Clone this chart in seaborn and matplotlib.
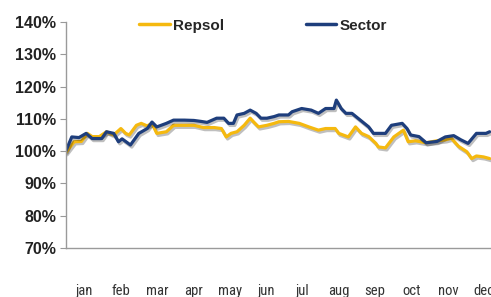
import matplotlib
matplotlib.use("Agg")
import pandas as pd
import matplotlib.pyplot as plt
import matplotlib.patheffects as pe
from matplotlib import font_manager
from matplotlib.lines import Line2D
import seaborn as sns

# Data (day of year, index level in %)
sector_days = [0, 5, 11, 17, 22, 30, 34, 40, 44, 47, 54, 61, 68, 72, 76, 84, 90, 99, 107, 113,
               118, 126, 132, 136, 140, 143, 149, 154, 159, 163, 168, 174, 178, 186, 189, 197,
               205, 211, 217, 224, 226, 230, 234, 239, 246, 253, 257, 261, 267, 272, 281, 285,
               288, 295, 301, 310, 317, 324, 330, 336, 343, 351, 354]
sector_vals = [100, 104.4, 104.2, 105.5, 103.9, 103.9, 106, 105.5, 102.9, 103.8, 101.9, 105.5,
               107, 109, 107.5, 108.6, 109.6, 109.6, 109.5, 109.2, 108.9, 110.2, 110.2, 108.6,
               108.6, 111.2, 111.7, 112.7, 111.7, 110.2, 110.2, 110.7, 111.2, 111.2, 112.2,
               113.2, 112.7, 111.7, 113.2, 113.2, 115.8, 113.2, 111.7, 111.7, 109.6, 107.5,
               105.5, 105.5, 105.5, 108, 108.6, 107, 105, 104.5, 102.6, 103, 104.4, 104.8,
               103.5, 102.4, 105.5, 105.5, 106]

repsol_days = [0, 7, 13, 18, 22, 28, 34, 40, 46, 50, 53, 59, 63, 68, 72, 76, 84, 90, 99, 107,
               115, 124, 130, 134, 138, 143, 149, 154, 157, 161, 168, 174, 178, 186, 195, 203,
               211, 217, 225, 228, 236, 242, 247, 253, 259, 261, 267, 274, 282, 286, 292, 301,
               310, 317, 322, 328, 335, 339, 343, 349, 354]
repsol_vals = [99.5, 102.9, 103, 105.5, 104.5, 104.5, 106, 105, 107, 105.5, 105, 108, 108.6,
               107.8, 108.6, 105.5, 106, 108, 108, 108, 107.3, 107.3, 107, 104.4, 105.5, 106,
               108, 110.2, 109, 107.5, 108, 108.6, 109.1, 109.2, 108.6, 107.5, 106.5, 107, 107,
               105.5, 104.4, 107.5, 105.5, 104.5, 102.4, 101.3, 101, 104.4, 106.5, 102.9, 103.2,
               102.6, 103.2, 103.5, 104, 101.5, 99.8, 97.7, 98.5, 98.2, 97.7]

months = ["jan", "feb", "mar", "apr", "may", "jun", "jul", "aug", "sep", "oct", "nov", "dec"]

df = pd.concat([
    pd.DataFrame({"day": repsol_days, "value": repsol_vals, "series": "Repsol"}),
    pd.DataFrame({"day": sector_days, "value": sector_vals, "series": "Sector"}),
], ignore_index=True)

sns.set_style("white")
plt.rcParams["font.family"] = ["Liberation Sans", "DejaVu Sans"]

# pick a narrow face for the month labels if one is around
names = {f.name for f in font_manager.fontManager.ttflist}
narrow = None
for cand in ["Liberation Sans Narrow", "Arial Narrow", "Roboto Condensed", "Open Sans Condensed"]:
    if cand in names:
        narrow = cand
        break
if narrow:
    month_font = font_manager.FontProperties(family=narrow, size=10.5)
else:
    month_font = font_manager.FontProperties(family="DejaVu Sans", stretch="condensed", size=9.5)

fig = plt.figure(figsize=(4.91, 2.97), dpi=100)
ax = fig.add_axes([0.134, 0.165, 0.89, 0.761])

palette = {"Repsol": "#F5B90F", "Sector": "#1E3E7C"}
sns.lineplot(data=df, x="day", y="value", hue="series", palette=palette,
             estimator=None, linewidth=2.3, ax=ax, legend=False)
for line in ax.lines:
    line.set_path_effects([pe.SimpleLineShadow(offset=(1, -1.5), alpha=0.25), pe.Normal()])

ax.set_xlim(0, 365)
ax.set_ylim(70, 140)
ax.set_yticks(range(70, 141, 10))
ax.set_yticklabels([f"{v}%" for v in range(70, 141, 10)], fontsize=11.5, fontweight="bold",
                   color="#222222")

ax.set_xticks([15.2 + 30.4 * i for i in range(12)])
ax.set_xticklabels(months, fontproperties=month_font, color="#333333")
ax.set_xticks([62, 118, 180, 240, 303], minor=True)
ax.tick_params(axis="x", which="major", length=0, pad=26)
ax.tick_params(axis="x", which="minor", length=7, width=0.8, color="#999999", direction="out")
ax.tick_params(axis="y", length=4, width=0.8, color="#999999", direction="out", pad=3, left=True)

for side in ["top", "right"]:
    ax.spines[side].set_visible(False)
for side in ["left", "bottom"]:
    ax.spines[side].set_color("#9a9a9a")
    ax.spines[side].set_linewidth(1.0)
ax.set_xlabel("")
ax.set_ylabel("")

handles = [Line2D([], [], color=palette[k], linewidth=2.5) for k in ["Repsol", "Sector"]]
fig.legend(handles, ["Repsol", "Sector"], loc="center", bbox_to_anchor=(0.536, 0.913),
           ncol=2, frameon=False, handlelength=2.0, handletextpad=0.25, columnspacing=5.3,
           prop={"weight": "bold", "size": 11})

fig.savefig("out.png", dpi=100)
